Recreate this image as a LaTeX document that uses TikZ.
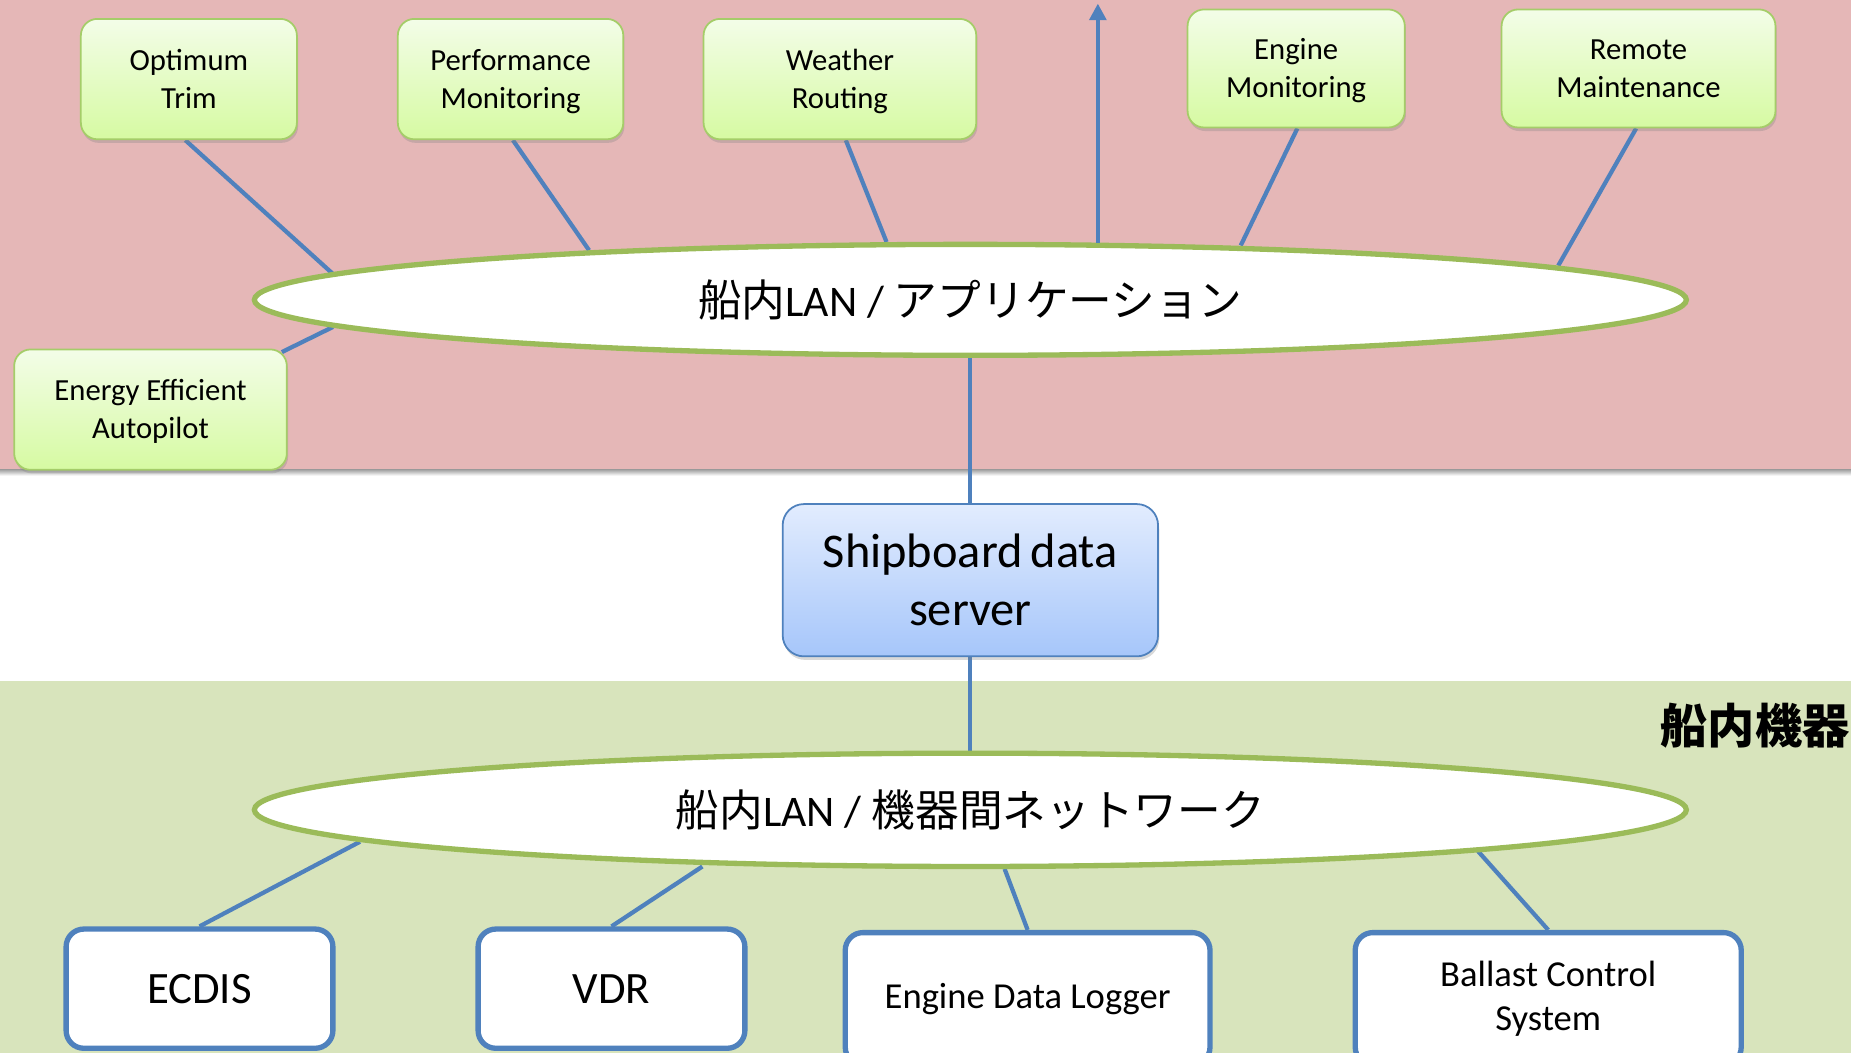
\documentclass[tikz,border=0pt]{standalone}
\usepackage{fontspec}
\setmainfont{Carlito}
\newfontfamily\jp{Noto Sans CJK JP}
\usetikzlibrary{shapes.geometric,arrows.meta,shadows,backgrounds}
\definecolor{pinkbg}{RGB}{229,183,183}
\definecolor{greenbg}{RGB}{216,228,188}
\definecolor{linkblue}{RGB}{79,129,189}
\definecolor{ellgreen}{RGB}{155,187,89}
\definecolor{appborder}{RGB}{165,205,105}
\definecolor{apptop}{RGB}{243,253,232}
\definecolor{appbot}{RGB}{214,250,162}
\definecolor{srvtop}{RGB}{226,236,254}
\definecolor{srvbot}{RGB}{166,198,250}
\newcommand\apptext[2]{\rule{0pt}{24pt}#1\\#2\rule[-7pt]{0pt}{7pt}}
\begin{document}
\begin{tikzpicture}[x=1pt,y=-1pt,
  app/.style={draw=appborder, line width=1.5pt, rounded corners=14pt,
    top color=apptop, bottom color=appbot, align=center,
    font=\fontsize{26}{32}\selectfont, inner sep=0pt,
    drop shadow={shadow xshift=1pt,shadow yshift=-3pt,opacity=0.3}},
  lan/.style={ellipse, draw=ellgreen, line width=4.5pt, fill=white,
    inner sep=0pt, minimum width=1213pt, font=\fontsize{37}{42}\selectfont},
  dev/.style={draw=linkblue, line width=4.5pt, rounded corners=15pt, fill=white,
    align=center, inner sep=0pt},
  srv/.style={draw=linkblue, line width=1.5pt, rounded corners=18pt,
    top color=srvtop, bottom color=srvbot, align=center, inner sep=0pt,
    font=\fontsize{41}{49}\selectfont,
    drop shadow={shadow xshift=1pt,shadow yshift=-3pt,opacity=0.3}},
  link/.style={draw=linkblue, line width=3.6pt}
]
\useasboundingbox (0,0) rectangle (1568,892);

% application boxes
\node[app, minimum width=183pt, minimum height=102pt] (opt) at (160,67) {\apptext{Optimum}{Trim}};
\node[app, minimum width=191pt, minimum height=102pt] (perf) at (432.5,67) {\apptext{Performance}{Monitoring}};
\node[app, minimum width=231pt, minimum height=102pt] (wea) at (711.5,67) {\apptext{Weather}{Routing}};
\node[app, minimum width=184pt, minimum height=100pt] (eng) at (1098,58) {\apptext{Engine}{Monitoring}};
\node[app, minimum width=232pt, minimum height=100pt] (rem) at (1388,58) {\apptext{Remote}{Maintenance}};
\node[app, minimum width=231pt, minimum height=102pt] (eea) at (127.5,347) {\apptext{Energy Efficient}{Autopilot}};

% LAN ellipses
\node[lan, minimum height=94pt] (appl) at (822,254) {{\jp 船内}LAN / {\jp アプリケーション}};
\node[lan, minimum height=96pt] (net) at (822,686) {{\jp 船内}LAN / {\jp 機器間ネットワーク}};

% server
\node[srv, minimum width=318pt, minimum height=129pt] (srv) at (822,491.5) {Shipboard\,data\\server};

% devices
\node[dev, minimum width=226pt, minimum height=101pt, font=\fontsize{38}{44}\selectfont] (ecdis) at (169,837.5) {ECDIS};
\node[dev, minimum width=226pt, minimum height=101pt, font=\fontsize{38}{44}\selectfont] (vdr) at (518,837.5) {VDR};
\node[dev, minimum width=309pt, minimum height=112pt, font=\fontsize{31}{38}\selectfont] (edl) at (870.5,846) {\raisebox{4pt}{Engine Data Logger}};
\node[dev, minimum width=327pt, minimum height=112pt, font=\fontsize{31}{38}\selectfont] (bcs) at (1311.5,846) {Ballast Control\\System};

% section label
\node[anchor=east, inner sep=0pt, font=\jp\bfseries\fontsize{40}{44}\selectfont] (lbl) at (1567,615) {船内機器};

% points on the ellipses
\coordinate (a1) at (282,232);
\coordinate (a2) at (499,212);
\coordinate (a3) at (751,205);
\coordinate (a4) at (1051,208);
\coordinate (a5) at (1320,225);
\coordinate (a6) at (282,277);
\coordinate (aup) at (930,206);
\coordinate (atop) at (930,3);
\coordinate (b1) at (305,713);
\coordinate (b2) at (595,734);
\coordinate (b3) at (851,736);
\coordinate (b4) at (1252,721);

\begin{scope}[on background layer]
  \fill[pinkbg] (0,0) rectangle (1568,398);
  \shade[top color=black!35, bottom color=white] (0,398) rectangle (1568,403);
  \fill[greenbg] (0,577) rectangle (1568,892);
  \draw[link] ([xshift=-3pt]opt.south) -- (a1);
  \draw[link] ([xshift=2pt]perf.south) -- (a2);
  \draw[link] ([xshift=5pt]wea.south) -- (a3);
  \draw[link] ([xshift=1pt]eng.south) -- (a4);
  \draw[link] ([xshift=-2pt]rem.south) -- (a5);
  \draw[link] ([shift={(-5,3)}]eea.north east) -- (a6);
  \draw[link] (appl.south) -- (srv.north);
  \draw[link] (srv.south) -- (net.north);
  \draw[link] (ecdis.north) -- (b1);
  \draw[link] (vdr.north) -- (b2);
  \draw[link] (edl.north) -- (b3);
  \draw[link] (bcs.north) -- (b4);
\end{scope}
\draw[link, -{Triangle[length=14pt,width=14pt]}] (aup) -- (atop);
\end{tikzpicture}
\end{document}
